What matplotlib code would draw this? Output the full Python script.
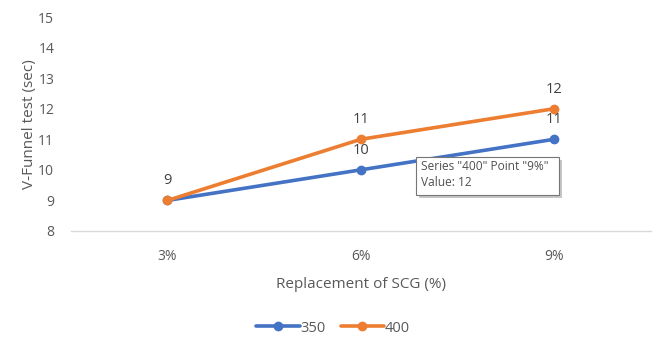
import matplotlib.pyplot as plt
from matplotlib.patches import FancyBboxPatch

categories = ["3%", "6%", "9%"]
series_350 = [9, 10, 11]
series_400 = [9, 11, 12]
y_ticks = [8, 9, 10, 11, 12, 13, 14, 15]

plt.rcParams['font.family'] = ['Open Sans', 'DejaVu Sans']

blue = "#4472C4"
orange = "#ED7D31"
grey = "#595959"

fig = plt.figure(figsize=(6.56, 3.40), dpi=100)
ax = fig.add_axes([0.108, 0.3206, 0.884, 0.6294])

x = list(range(len(categories)))
ax.plot(x, series_350, color=blue, lw=2.6, marker="o", ms=6, label="350",
        solid_capstyle="round", zorder=3)
ax.plot(x, series_400, color=orange, lw=2.6, marker="o", ms=6, label="400",
        solid_capstyle="round", zorder=4)

# value labels above each point
for xi, v in zip(x, series_350):
    ax.annotate(str(v), (xi, v), xytext=(0, 15.5), textcoords="offset points",
                ha="center", va="center_baseline", fontsize=10.5, color="#404040",
                zorder=5)
for xi, v in zip(x, series_400):
    if xi == 0:
        continue
    ax.annotate(str(v), (xi, v), xytext=(0, 15.5), textcoords="offset points",
                ha="center", va="center_baseline", fontsize=10.5, color="#404040",
                zorder=5)

ax.set_xlim(-0.5, 2.5)
ax.set_ylim(8, 15)
ax.set_xticks(x)
ax.set_xticklabels(categories)
ax.set_yticks(y_ticks)
ax.tick_params(axis="both", length=0, labelsize=10, colors=grey)
ax.tick_params(axis="x", pad=13)
ax.tick_params(axis="y", pad=12)
for side in ["top", "right", "left"]:
    ax.spines[side].set_visible(False)
ax.spines["bottom"].set_color("#D9D9D9")
ax.spines["bottom"].set_linewidth(1)

ax.set_xlabel("Replacement of SCG (%)", fontsize=11, color=grey, labelpad=9)
ax.set_ylabel("V-Funnel test (sec)", fontsize=11, color=grey)
ax.yaxis.set_label_coords(-0.058, 0.5)

ax.legend(loc="center", bbox_to_anchor=(0.508, 0.035), bbox_transform=fig.transFigure,
          ncol=2, frameon=False, fontsize=10.5, handlelength=3.0, columnspacing=1.0,
          handletextpad=0.05, labelcolor=grey)

# hover tooltip
W, H = 656, 340
bx, by, bw, bh = 416, 157, 143, 38
shadow = FancyBboxPatch(((bx + 3) / W, 1 - (by + bh + 3) / H), bw / W, bh / H,
                        boxstyle="square,pad=0", transform=fig.transFigure,
                        facecolor="#A0A0A0", edgecolor="none", alpha=0.6, zorder=9)
box = FancyBboxPatch((bx / W, 1 - (by + bh) / H), bw / W, bh / H,
                     boxstyle="square,pad=0", transform=fig.transFigure,
                     facecolor="white", edgecolor="#767676", lw=0.8, zorder=10)
fig.patches.extend([shadow, box])
fig.text((bx + 5) / W, 1 - (by + 3) / H, 'Series "400" Point "9%"\nValue: 12',
         ha="left", va="top", fontsize=8.6, color="#505050", linespacing=1.25,
         zorder=11)

fig.savefig("out.png", dpi=100)
